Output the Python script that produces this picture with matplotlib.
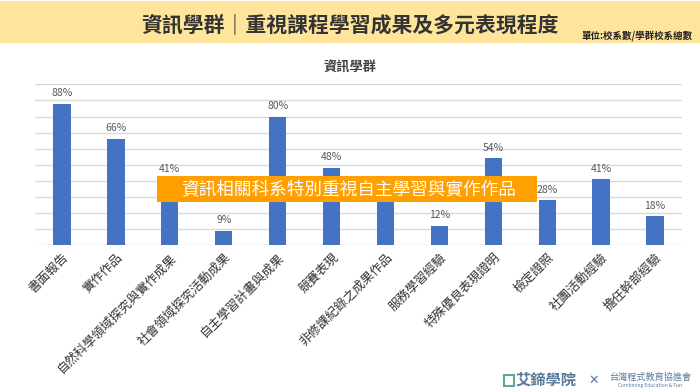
import matplotlib
matplotlib.use("Agg")
import matplotlib.pyplot as plt
from matplotlib.patches import Rectangle

plt.rcParams['font.family'] = ['Noto Sans CJK TC', 'DejaVu Sans']

categories = ["書面報告", "實作作品", "自然科學領域探究與實作成果", "社會領域探究活動成果",
              "自主學習計畫與成果", "競賽表現", "非修課紀錄之成果作品", "服務學習經驗",
              "特殊優良表現證明", "檢定證照", "社團活動經驗", "擔任幹部經驗"]
values = [88, 66, 41, 9, 80, 48, 32, 12, 54, 28, 41, 18]
# the label of the 7th bar is hidden behind the banner in the reference
label_shown = [True, True, True, True, True, True, False, True, True, True, True, True]
yticks = list(range(0, 101, 10))

title = "資訊學群｜重視課程學習成果及多元表現程度"
unit = "單位:校系數/學群校系總數"
chart_title = "資訊學群"
banner = "資訊相關科系特別重視自主學習與實作作品"

W, H = 700, 391
fig = plt.figure(figsize=(W / 100, H / 100), dpi=100)
fig.patch.set_facecolor("white")

# header band
fig.add_artist(Rectangle((0, 1 - 43 / H), 1, 42 / H, transform=fig.transFigure,
                         facecolor="#FFE59C", edgecolor="none", zorder=0))
fig.text(350 / W, 1 - 25 / H, title, ha="center", va="center", fontsize=15,
         fontweight="bold", color="#333333")
fig.text(693 / W, 1 - 36 / H, unit, ha="right", va="center", fontsize=6.8,
         fontweight="bold", color="#222222")

ax = fig.add_axes([35 / W, 1 - 245.3 / H, 647 / W, 161 / H])
x = list(range(len(categories)))
ax.bar(x, values, width=0.32, color="#4472C4", zorder=3)
ax.set_xlim(-0.5, len(categories) - 0.5)
ax.set_ylim(0, 100)
ax.set_yticks(yticks)
ax.yaxis.grid(True, color="#D9D9D9", linewidth=1, zorder=0)
ax.tick_params(axis="y", length=0, labelleft=False)
ax.tick_params(axis="x", length=0, pad=4)
for s in ax.spines.values():
    s.set_visible(False)
ax.set_xticks(x)
ax.set_xticklabels(categories, rotation=45, ha="right", rotation_mode="anchor",
                   fontsize=9, color="#333333")
for xi, v, show in zip(x, values, label_shown):
    if show:
        ax.annotate(f"{v}%", (xi, v), xytext=(0, 4), textcoords="offset points",
                    ha="center", va="bottom", fontsize=7.5, color="#595959", zorder=4)

fig.text(350 / W, 1 - 67 / H, chart_title, ha="center", va="center", fontsize=9.5,
         fontweight="bold", color="#404040")

# orange banner (drawn over the chart)
fig.add_artist(Rectangle((157 / W, 1 - 201.5 / H), 380 / W, 25.5 / H,
                         transform=fig.transFigure, facecolor="#FFA000",
                         edgecolor="none", zorder=5))
fig.text(349 / W, 1 - 189 / H, banner, ha="center", va="center", fontsize=12.7,
         color="white", zorder=6)

# footer logos
fig.add_artist(Rectangle((504 / W, 1 - 386 / H), 10 / W, 11 / H, transform=fig.transFigure,
                         facecolor="none", edgecolor="#5FA88A", linewidth=1.5))
fig.text(515 / W, 1 - 380 / H, "艾鍗學院", ha="left", va="center", fontsize=11,
         fontweight="bold", color="#5B7A99")
fig.text(594 / W, 1 - 380 / H, "✕", ha="center", va="center", fontsize=9,
         fontweight="bold", color="#5B7A99", family=["DejaVu Sans"])
fig.text(650 / W, 1 - 377 / H, "台灣程式教育協進會", ha="center", va="center", fontsize=6.6,
         color="#5B7A99")
fig.text(650 / W, 1 - 386 / H, "Combining Education & Fun", ha="center", va="center",
         fontsize=3.5, color="#5B7A99")

fig.savefig("out.png", dpi=100)
